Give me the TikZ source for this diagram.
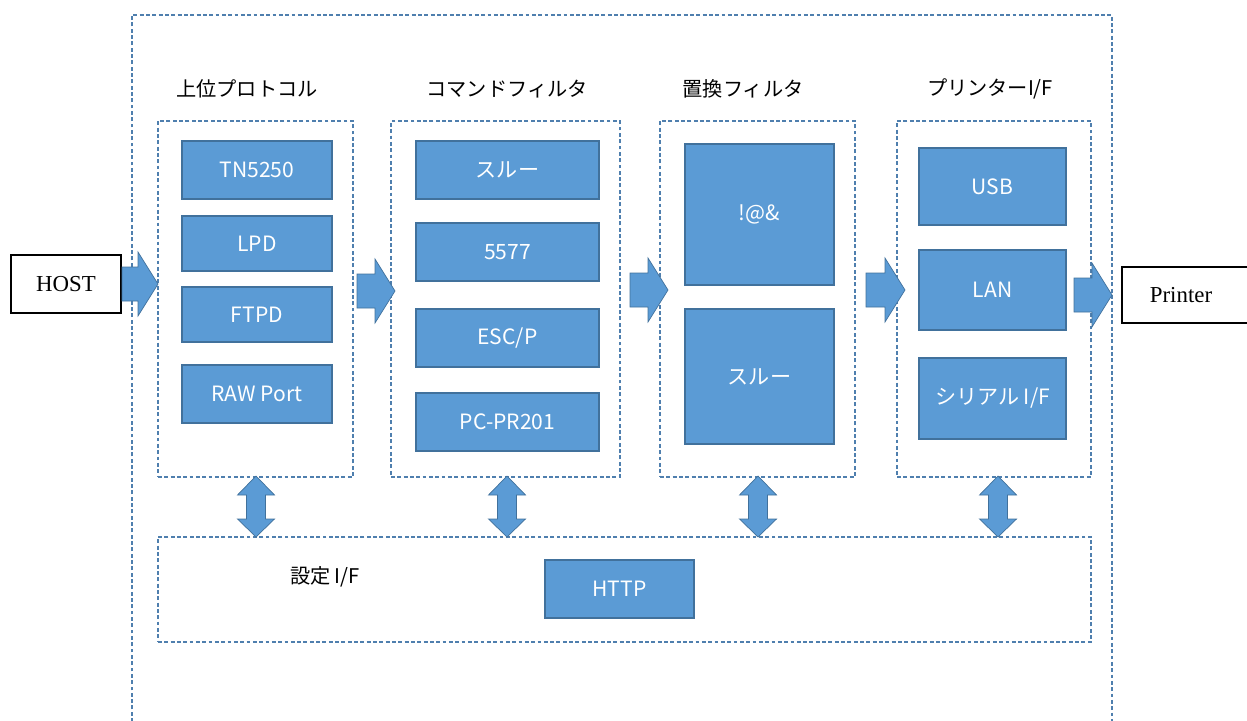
\documentclass[tikz,border=0pt]{standalone}
\usepackage{fontspec}
\setmainfont{Liberation Serif}
\newfontfamily\jpfont{Noto Sans CJK JP}
\usetikzlibrary{fit,calc}
\definecolor{boxblue}{HTML}{5B9BD5}
\definecolor{boxedge}{HTML}{41719C}
\definecolor{dashblue}{HTML}{4F7FAE}
\tikzset{
  grp/.style={draw=dashblue, line width=0.6pt, dash pattern=on 2.2pt off 1.4pt, inner sep=0pt},
  blk/.style={draw=boxedge, fill=boxblue, line width=0.6pt, inner sep=0pt},
  blktext/.style={text=white, inner sep=0pt, font=\jpfont\fontsize{12}{14}\selectfont},
  ttl/.style={font=\jpfont\fontsize{11.5}{14}\selectfont, text=black},
  endbox/.style={draw=black, line width=0.8pt, inner sep=0pt},
  endtext/.style={font=\fontsize{13}{15}\selectfont},
  barrow/.style={fill=boxblue, draw=boxedge, line width=0.4pt}
}
% horizontal block arrow: x start, x tip, y centre
\newcommand{\harrow}[3]{%
  \draw[barrow] (#1,#3-17) -- (#2-20,#3-17) -- (#2-20,#3-32) -- (#2,#3) -- (#2-20,#3+32) -- (#2-20,#3+17) -- (#1,#3+17) -- cycle;}
% vertical double block arrow: x centre, y top, y bottom
\newcommand{\varrow}[3]{%
  \draw[barrow] (#1,#2) -- (#1+18.5,#2+19) -- (#1+9.5,#2+19) -- (#1+9.5,#3-18) -- (#1+18.5,#3-18) -- (#1,#3)
    -- (#1-18.5,#3-18) -- (#1-9.5,#3-18) -- (#1-9.5,#2+19) -- (#1-18.5,#2+19) -- cycle;}
\begin{document}
\begin{tikzpicture}[x=0.02cm,y=-0.02cm]
\useasboundingbox (0,0) rectangle (1247,720);

% outer frame (open at the bottom edge)
\draw[grp] (132,722) -- (132,15) -- (1112,15) -- (1112,722);

% group frames
\node[grp, fit={(158,121) (353,477)}] (g1) {};
\node[grp, fit={(391,121) (620,477)}] (g2) {};
\node[grp, fit={(660,121) (855,477)}] (g3) {};
\node[grp, fit={(897,121) (1091,477)}] (g4) {};
\node[grp, fit={(158,537) (1091,642)}] (cfg) {};

% titles
\node[ttl] (t1) at (247,89) {上位プロトコル};
\node[ttl] (t2) at (507,89) {コマンドフィルタ};
\node[ttl] (t3) at (743,89) {置換フィルタ};
\node[ttl] (t4) at (990,89) {プリンターI/F};
\node[ttl] (t5) at (325,577) {設定 I/F};

% upper protocols
\node[blk, fit={(182,141) (332,199)}] (tn) {};
\node[blktext] at (tn.center) {TN5250};
\node[blk, fit={(182,216) (332,271)}] (lpd) {};
\node[blktext] at (lpd.center) {LPD};
\node[blk, fit={(182,287) (332,342)}] (ftpd) {};
\node[blktext] at (ftpd.center) {FTPD};
\node[blk, fit={(182,365) (332,423)}] (raw) {};
\node[blktext] at (raw.center) {RAW Port};

% command filters
\node[blk, fit={(416,141) (599,199)}] (thru1) {};
\node[blktext] at (thru1.center) {スルー};
\node[blk, fit={(416,223) (599,281)}] (c5577) {};
\node[blktext] at (c5577.center) {5577};
\node[blk, fit={(416,309) (599,367)}] (escp) {};
\node[blktext] at (escp.center) {ESC/P};
\node[blk, fit={(416,393) (599,451)}] (pcpr) {};
\node[blktext] at (pcpr.center) {PC-PR201};

% substitution filters
\node[blk, fit={(685,144) (834,285)}] (sub) {};
\node[blktext] at (sub.center) {!@\&};
\node[blk, fit={(685,309) (834,444)}] (thru2) {};
\node[blktext] at (thru2.center) {スルー};

% printer interfaces
\node[blk, fit={(919,148) (1066,225)}] (usb) {};
\node[blktext] at (usb.center) {USB};
\node[blk, fit={(919,250) (1066,330)}] (lan) {};
\node[blktext] at (lan.center) {LAN};
\node[blk, fit={(919,358) (1066,439)}] (ser) {};
\node[blktext] at (ser.center) {シリアル I/F};

% settings interface
\node[blk, fit={(545,560) (694,618)}] (http) {};
\node[blktext] at (http.center) {HTTP};

% host and printer
\node[endbox, fit={(11,255) (121,313)}] (host) {};
\node[endtext] at (host.center) {HOST};
\node[endbox, fit={(1122,267) (1252,323)}] (prn) {};
\node[endtext] at ($(prn.center)+(-6,0)$) {Printer};

% data flow arrows
\harrow{122}{158}{284}
\harrow{357}{395}{291}
\harrow{630}{668}{290}
\harrow{866}{905}{290}
\harrow{1074}{1112}{295}

% configuration links
\varrow{256}{476}{537}
\varrow{507}{476}{537}
\varrow{758}{476}{537}
\varrow{998}{476}{537}
\end{tikzpicture}
\end{document}
